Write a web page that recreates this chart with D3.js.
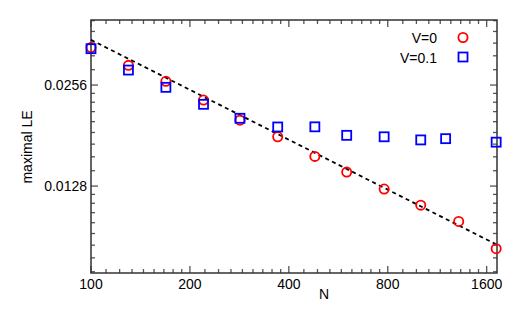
<!DOCTYPE html>
<html>
<head>
<meta charset="utf-8">
<script src="https://cdn.jsdelivr.net/npm/d3@7/dist/d3.min.js"></script>
<style>
  body { margin: 0; background: #fff; }
  svg { font-family: "Liberation Sans", Arial, sans-serif; }
</style>
</head>
<body>
<svg id="chart" width="519" height="312"></svg>
<script>
// system size N and maximal Lyapunov exponent for both disorder strengths
var nV0 = [100, 130, 169, 220, 284, 370, 480, 600, 780, 1008, 1315, 1710];
var leV0 = [0.0331, 0.0293, 0.02627, 0.0231, 0.02012, 0.01795, 0.01569, 0.01409, 0.01254, 0.01123, 0.01004, 0.00833];
var nV01 = [100, 130, 169, 220, 284, 370, 480, 600, 780, 1008, 1200, 1710];
var leV01 = [0.03285, 0.02837, 0.0252, 0.02243, 0.02038, 0.0192, 0.01922, 0.01813, 0.01795, 0.01757, 0.01772, 0.0173];
// power law fit, end points
var fitN = [100, 1710];
var fitLE = [0.0349, 0.00858];
var xTicks = [100, 200, 400, 800, 1600];
var yTicks = [0.0128, 0.0256];

var pLeft = 91, pRight = 497, pTop = 20, pBottom = 273;
var svg = d3.select("#chart");

var x = d3.scaleLog().domain([100, 1720]).range([pLeft, pRight]);
var y = d3.scaleLog().domain([0.00705, 0.04]).range([pBottom, pTop]);

// minor ticks: each octave split into 9 parts
function minors(majors, lo, hi) {
  var out = [];
  var a = majors[0];
  while (a > lo) a = a / 2;
  for (; a < hi; a = a * 2) {
    for (var k = 1; k < 9; k++) {
      var v = a + k * a / 9;
      if (v > lo && v < hi) out.push(v);
    }
  }
  return out;
}
var xMinor = minors(xTicks, 100, 1720);
var yMinor = minors(yTicks, 0.00705, 0.04);

var tickCol = "#555";
var g = svg.append("g");
function tick(x1, y1, x2, y2) {
  g.append("line").attr("x1", x1).attr("y1", y1).attr("x2", x2).attr("y2", y2)
    .attr("stroke", tickCol).attr("stroke-width", 1.3);
}
xTicks.forEach(function(d) { tick(x(d), pBottom, x(d), pBottom - 7); tick(x(d), pTop, x(d), pTop + 7); });
xMinor.forEach(function(d) { tick(x(d), pBottom, x(d), pBottom - 4); tick(x(d), pTop, x(d), pTop + 4); });
yTicks.forEach(function(d) { tick(pLeft, y(d), pLeft + 7, y(d)); tick(pRight, y(d), pRight - 7, y(d)); });
yMinor.forEach(function(d) { tick(pLeft, y(d), pLeft + 4, y(d)); tick(pRight, y(d), pRight - 4, y(d)); });

svg.append("rect").attr("x", pLeft).attr("y", pTop).attr("width", pRight - pLeft).attr("height", pBottom - pTop)
  .attr("fill", "none").attr("stroke", "#333").attr("stroke-width", 1.5);

svg.selectAll(".xl").data(xTicks).enter().append("text")
  .attr("x", function(d) { return x(d); }).attr("y", 289)
  .attr("text-anchor", "middle").attr("font-size", 14).text(function(d) { return d; });
svg.selectAll(".yl").data(yTicks).enter().append("text")
  .attr("x", 87).attr("y", function(d) { return y(d) + 5; })
  .attr("text-anchor", "end").attr("font-size", 14).text(function(d) { return d; });

svg.append("text").attr("x", 324).attr("y", 299).attr("text-anchor", "middle")
  .attr("font-size", 14).text("N");
svg.append("text").attr("transform", "translate(32,147) rotate(-90)").attr("text-anchor", "middle")
  .attr("font-size", 14).text("maximal LE");

// fit line
svg.append("path").datum(d3.zip(fitN, fitLE))
  .attr("d", d3.line().x(function(d) { return x(d[0]); }).y(function(d) { return y(d[1]); }))
  .attr("fill", "none").attr("stroke", "#000").attr("stroke-width", 1.8).attr("stroke-dasharray", "4,3.5");

svg.selectAll(".c").data(d3.zip(nV0, leV0)).enter().append("circle")
  .attr("cx", function(d) { return x(d[0]); }).attr("cy", function(d) { return y(d[1]); })
  .attr("r", 4.6).attr("fill", "none").attr("stroke", "#ff0000").attr("stroke-width", 1.8);
svg.selectAll(".s").data(d3.zip(nV01, leV01)).enter().append("rect")
  .attr("x", function(d) { return x(d[0]) - 4.5; }).attr("y", function(d) { return y(d[1]) - 4.5; })
  .attr("width", 9).attr("height", 9).attr("fill", "none").attr("stroke", "#0000ff").attr("stroke-width", 1.8);

// legend
svg.append("text").attr("x", 437).attr("y", 43).attr("text-anchor", "end").attr("font-size", 14).text("V=0");
svg.append("circle").attr("cx", 463).attr("cy", 37.5).attr("r", 4.6)
  .attr("fill", "none").attr("stroke", "#ff0000").attr("stroke-width", 1.8);
svg.append("text").attr("x", 437).attr("y", 63).attr("text-anchor", "end").attr("font-size", 14).text("V=0.1");
svg.append("rect").attr("x", 458.5).attr("y", 52.5).attr("width", 9).attr("height", 9)
  .attr("fill", "none").attr("stroke", "#0000ff").attr("stroke-width", 1.8);
</script>
</body>
</html>
